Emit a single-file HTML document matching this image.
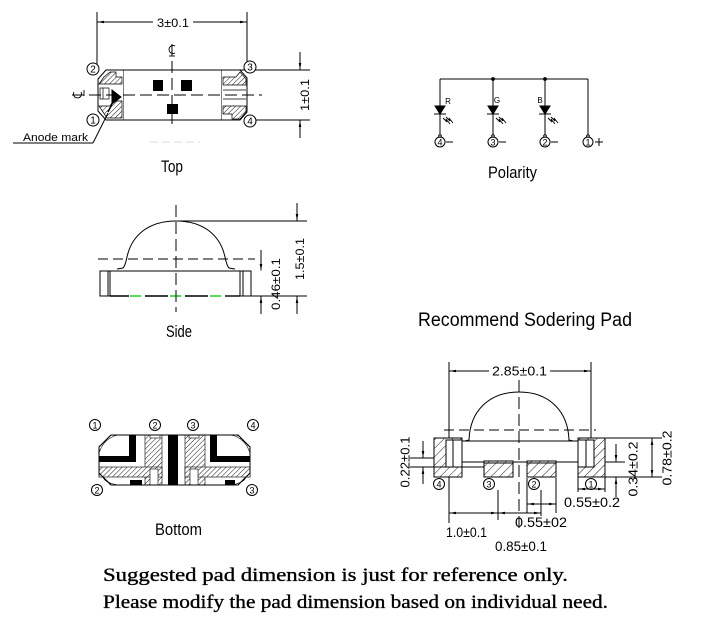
<!DOCTYPE html>
<html><head><meta charset="utf-8"><style>
html,body{margin:0;padding:0;background:#fff;}
svg{display:block;}
text{font-family:"Liberation Sans",sans-serif;fill:#000;stroke:none;}
.s{font-family:"Liberation Serif",serif;}
</style></head><body>
<svg width="711" height="637" viewBox="0 0 711 637" xmlns="http://www.w3.org/2000/svg">
<defs>
<marker id="a" viewBox="0 0 10 4" refX="10" refY="2" markerWidth="7" markerHeight="2.6" markerUnits="userSpaceOnUse" orient="auto"><path d="M0,0L10,2L0,4z" fill="#000"/></marker>
<pattern id="h" patternUnits="userSpaceOnUse" width="3.5" height="3.5" patternTransform="rotate(45)"><rect width="3.5" height="3.5" fill="#fff"/><line x1="0" y1="0" x2="0" y2="3.5" stroke="#000" stroke-width="0.9"/></pattern>
<pattern id="h2" patternUnits="userSpaceOnUse" width="6" height="6" patternTransform="rotate(45)"><rect width="6" height="6" fill="#fff"/><line x1="0" y1="0" x2="0" y2="6" stroke="#000" stroke-width="0.9"/></pattern>
</defs>
<g stroke="#000" stroke-width="1" fill="none">

<!-- ================= TOP VIEW ================= -->
<line x1="97" y1="12" x2="97" y2="72"/>
<line x1="247" y1="12" x2="247" y2="62"/>
<line x1="153" y1="22" x2="97.5" y2="22" marker-end="url(#a)"/>
<line x1="193" y1="22" x2="246.5" y2="22" marker-end="url(#a)"/>
<rect x="123" y="70" width="99" height="50"/>
<path d="M123,70 L106,70 L98,79 L98,111 L106,120 L123,120" fill="#fff"/>
<path d="M222,70 L240,70 L247,78 L247,112 L240,120 L222,120" fill="#fff"/>
<path d="M99,84 L104,77 L110,72 L116,72 L116,77 L122,77 L122,84 Z" fill="url(#h)" stroke-width="0.7"/>
<path d="M99,106 L110,106 L113,101 L122,101 L122,118 L107,118 Z" fill="url(#h)" stroke-width="0.7"/>
<rect x="100" y="88" width="9" height="11" fill="#fff" stroke-width="0.7"/>
<line x1="103" y1="88" x2="103" y2="99" stroke-width="0.7"/>
<polygon points="112,90 121,97 112,104" fill="#000"/>
<line x1="112" y1="104" x2="108" y2="112" stroke-width="1.5"/>
<path d="M223,77 L236,77 L240,72 L246,79 L246,85 L223,85 Z" fill="url(#h)" stroke-width="0.7"/>
<path d="M223,106 L246,106 L246,112 L240,119 L232,119 L232,114 L223,114 Z" fill="url(#h)" stroke-width="0.7"/>
<line x1="223" y1="90" x2="246" y2="90" stroke-width="0.7"/>
<line x1="223" y1="99" x2="246" y2="99" stroke-width="0.7"/>
<line x1="72" y1="95" x2="262" y2="95" stroke-dasharray="12 5"/>
<line x1="172" y1="44" x2="172" y2="128" stroke-dasharray="12 5"/>
<rect x="153" y="80" width="10" height="11" fill="#000" stroke="none"/>
<rect x="181" y="80" width="11" height="11" fill="#000" stroke="none"/>
<rect x="167" y="104" width="11" height="10" fill="#000" stroke="none"/>
<path d="M175,46 A4,4 0 1,0 175,53" stroke-width="0.9"/>
<line x1="169" y1="56" x2="175" y2="56" stroke-width="0.9"/>
<path d="M74,92 A4,4 0 1,0 81,92" stroke-width="0.9"/>
<line x1="84" y1="90" x2="84" y2="96" stroke-width="0.9"/>
<line x1="240" y1="70" x2="310" y2="70"/>
<line x1="256" y1="120" x2="310" y2="120"/>
<line x1="300" y1="52" x2="300" y2="69.5" marker-end="url(#a)"/>
<line x1="300" y1="138" x2="300" y2="120.5" marker-end="url(#a)"/>
<circle cx="93" cy="69" r="6" fill="#fff"/>
<circle cx="250" cy="67" r="6" fill="#fff"/>
<circle cx="93" cy="120" r="6" fill="#fff"/>
<circle cx="250" cy="121" r="6" fill="#fff"/>
<line x1="13" y1="143" x2="93" y2="143"/>
<line x1="93" y1="143" x2="108" y2="113"/>
<line x1="150" y1="142" x2="200" y2="142" stroke="#ddd" stroke-dasharray="8 4"/>

<!-- ================= POLARITY ================= -->
<line x1="440" y1="79" x2="588" y2="79"/>
<line x1="440" y1="79" x2="440" y2="137"/>
<line x1="493" y1="79" x2="493" y2="137"/>
<line x1="545" y1="79" x2="545" y2="137"/>
<line x1="588" y1="79" x2="588" y2="137"/>
<circle cx="493" cy="79" r="1.4" fill="#000"/>
<circle cx="545" cy="79" r="1.4" fill="#000"/>
<g fill="#000">
<polygon points="435,106 445,106 440,114"/>
<polygon points="488,106 498,106 493,114"/>
<polygon points="540,106 550,106 545,114"/>
</g>
<line x1="434" y1="114" x2="446" y2="114"/>
<line x1="487" y1="114" x2="499" y2="114"/>
<line x1="539" y1="114" x2="551" y2="114"/>
<g stroke-width="0.9">
<path d="M443,118 L447,122 L446,119 L450,124"/>
<path d="M446,117 L450,121 L449,118 L453,123"/>
<path d="M496,118 L500,122 L499,119 L503,124"/>
<path d="M499,117 L503,121 L502,118 L506,123"/>
<path d="M548,118 L552,122 L551,119 L555,124"/>
<path d="M551,117 L555,121 L554,118 L558,123"/>
</g>
<circle cx="440" cy="142" r="5"/>
<circle cx="493" cy="142" r="5"/>
<circle cx="545" cy="142" r="5"/>
<circle cx="588" cy="142" r="5"/>
<circle cx="440" cy="136" r="1.3" fill="#fff"/>
<circle cx="493" cy="136" r="1.3" fill="#fff"/>
<circle cx="545" cy="136" r="1.3" fill="#fff"/>
<circle cx="588" cy="136" r="1.3" fill="#fff"/>
<line x1="446" y1="142" x2="453" y2="142"/>
<line x1="499" y1="142" x2="506" y2="142"/>
<line x1="551" y1="142" x2="558" y2="142"/>
<line x1="595" y1="142" x2="603" y2="142"/>
<line x1="599" y1="138" x2="599" y2="146"/>

<!-- ================= SIDE VIEW ================= -->
<path d="M117,269 L123,268 C125,266 126,262 127,257 C132,234 150,221 176,221 C202,221 220,234 225,257 C226,262 227,266 229,268 L235,269"/>
<rect x="100" y="271" width="151" height="25"/>
<line x1="108" y1="271" x2="108" y2="296"/>
<line x1="110" y1="271" x2="110" y2="296"/>
<line x1="240" y1="271" x2="240" y2="296"/>
<line x1="243" y1="271" x2="243" y2="296"/>
<line x1="111" y1="296" x2="239" y2="296" stroke="#fff" stroke-width="1.6"/>
<g stroke-width="1.4">
<line x1="110" y1="296" x2="129" y2="296"/>
<line x1="145" y1="296" x2="168" y2="296"/>
<line x1="185" y1="296" x2="208" y2="296"/>
<line x1="225" y1="296" x2="240" y2="296"/>
</g>
<g stroke="#2ad62a" stroke-width="1.6">
<line x1="130" y1="296" x2="141" y2="296"/>
<line x1="170" y1="296" x2="181" y2="296"/>
<line x1="210" y1="296" x2="221" y2="296"/>
</g>
<line x1="98" y1="259" x2="255" y2="259" stroke-dasharray="10 5"/>
<line x1="176" y1="205" x2="176" y2="312" stroke-dasharray="12 5"/>
<line x1="180" y1="221" x2="307" y2="221"/>
<line x1="251" y1="296" x2="307" y2="296"/>
<line x1="297" y1="203" x2="297" y2="220.5" marker-end="url(#a)"/>
<line x1="297" y1="314" x2="297" y2="296.5" marker-end="url(#a)"/>
<line x1="261" y1="250" x2="261" y2="270.5" marker-end="url(#a)"/>
<line x1="261" y1="314" x2="261" y2="296.5" marker-end="url(#a)"/>

<!-- ================= BOTTOM VIEW ================= -->
<path d="M111,435 L238,435 L250,447 L250,473 L238,485 L111,485 L99,473 L99,447 Z" fill="#fff"/>
<g stroke-width="0.6">
<path d="M99,447 L111,435 L118,435 Q104,438 99,453 Z" fill="url(#h)"/>
<path d="M250,447 L238,435 L231,435 Q245,438 250,453 Z" fill="url(#h)"/>
<path d="M99,477 L99,473 L111,485 L118,485 Q105,483 103,477 Z" fill="url(#h)"/>
<path d="M250,477 L250,473 L238,485 L231,485 Q244,483 246,477 Z" fill="url(#h)"/>
<rect x="145" y="435" width="17" height="50" fill="url(#h)"/>
<rect x="99" y="467" width="63" height="10" fill="url(#h)"/>
<rect x="185" y="435" width="20" height="50" fill="url(#h)"/>
<rect x="185" y="467" width="65" height="10" fill="url(#h)"/>
<rect x="150" y="435" width="10" height="3" fill="#fff"/>
<rect x="150" y="469" width="8" height="16" fill="#fff"/>
<rect x="189" y="435" width="10" height="3" fill="#fff"/>
<rect x="190" y="469" width="8" height="16" fill="#fff"/>
</g>
<g fill="#000" stroke="none">
<rect x="99" y="456" width="37" height="6"/>
<rect x="129" y="435" width="7" height="27"/>
<rect x="130" y="480" width="12" height="5"/>
<rect x="168" y="435" width="10" height="50"/>
<rect x="210" y="435" width="7" height="27"/>
<rect x="210" y="456" width="40" height="6"/>
<rect x="225" y="480" width="10" height="5"/>
</g>
<path d="M111,435 L238,435 L250,447 L250,473 L238,485 L111,485 L99,473 L99,447 Z"/>
<circle cx="95" cy="425" r="5.5"/>
<circle cx="155" cy="425" r="5.5"/>
<circle cx="193" cy="425" r="5.5"/>
<circle cx="253" cy="425" r="5.5"/>
<circle cx="97" cy="490" r="5.5"/>
<circle cx="252" cy="490" r="5.5"/>

<!-- ================= PAD VIEW ================= -->
<line x1="449" y1="362" x2="449" y2="440"/>
<line x1="591" y1="362" x2="591" y2="440"/>
<line x1="489" y1="371" x2="449.5" y2="371" marker-end="url(#a)"/>
<line x1="550" y1="371" x2="590.5" y2="371" marker-end="url(#a)"/>
<path d="M465,441 L469,440 C470,411 489,392 519,392 C549,392 568,411 569,440 L573,441"/>
<line x1="444" y1="430" x2="596" y2="430" stroke-dasharray="10 5"/>
<line x1="519" y1="380" x2="519" y2="530" stroke-dasharray="12 5"/>
<line x1="453" y1="441" x2="587" y2="441"/>
<line x1="453" y1="462" x2="625" y2="462"/>
<rect x="434" y="438" width="28" height="39" fill="url(#h2)"/>
<rect x="446" y="440" width="16" height="27" fill="#fff"/>
<line x1="453" y1="440" x2="453" y2="467"/>
<rect x="578" y="438" width="27" height="39" fill="url(#h2)"/>
<rect x="578" y="440" width="16" height="27" fill="#fff"/>
<line x1="586" y1="440" x2="586" y2="467"/>
<rect x="484" y="461" width="29" height="16" fill="url(#h2)"/>
<line x1="484" y1="463" x2="513" y2="463"/>
<rect x="527" y="461" width="29" height="16" fill="url(#h2)"/>
<line x1="527" y1="463" x2="556" y2="463"/>
<circle cx="439" cy="484" r="5.5" fill="#fff"/>
<circle cx="489" cy="484" r="5.5" fill="#fff"/>
<circle cx="534" cy="484" r="5.5" fill="#fff"/>
<circle cx="591" cy="484" r="5.5" fill="#fff"/>
<line x1="410" y1="458" x2="434" y2="458"/>
<line x1="410" y1="467" x2="484" y2="467"/>
<line x1="423" y1="441" x2="423" y2="457.5" marker-end="url(#a)"/>
<line x1="423" y1="484" x2="423" y2="467.5" marker-end="url(#a)"/>
<line x1="605" y1="438" x2="662" y2="438"/>
<line x1="605" y1="477" x2="662" y2="477"/>
<line x1="616" y1="444" x2="616" y2="461.5" marker-end="url(#a)"/>
<line x1="616" y1="497" x2="616" y2="477.5" marker-end="url(#a)"/>
<line x1="652" y1="458" x2="652" y2="438.5" marker-end="url(#a)"/>
<line x1="652" y1="458" x2="652" y2="476.5" marker-end="url(#a)"/>
<line x1="449" y1="477" x2="449" y2="523"/>
<line x1="498" y1="490" x2="498" y2="520"/>
<line x1="527" y1="478" x2="527" y2="513"/>
<line x1="541" y1="490" x2="541" y2="516"/>
<line x1="556" y1="478" x2="556" y2="513"/>
<line x1="473" y1="513" x2="449.5" y2="513" marker-end="url(#a)"/>
<line x1="473" y1="513" x2="497.5" y2="513" marker-end="url(#a)"/>
<line x1="520" y1="513" x2="498.5" y2="513" marker-end="url(#a)"/>
<line x1="520" y1="513" x2="540.5" y2="513" marker-end="url(#a)"/>
<line x1="541" y1="504" x2="527.5" y2="504" marker-end="url(#a)"/>
<line x1="541" y1="504" x2="555.5" y2="504" marker-end="url(#a)"/>
<line x1="578" y1="477" x2="578" y2="492"/>
<line x1="605" y1="477" x2="605" y2="492"/>
<line x1="591" y1="489" x2="578.5" y2="489" marker-end="url(#a)"/>
<line x1="591" y1="489" x2="604.5" y2="489" marker-end="url(#a)"/>
</g>

<!-- ================= TEXT ================= -->
<g font-size="12">
<text x="173" y="27" text-anchor="middle" textLength="32" lengthAdjust="spacingAndGlyphs">3±0.1</text>
<text x="0" y="0" text-anchor="middle" dominant-baseline="central" transform="translate(305,95) rotate(-90)" textLength="32" lengthAdjust="spacingAndGlyphs">1±0.1</text>
<text x="23" y="141" font-size="11" textLength="65" lengthAdjust="spacingAndGlyphs">Anode mark</text>
<text x="0" y="0" text-anchor="middle" dominant-baseline="central" transform="translate(300,259) rotate(-90)" textLength="42" lengthAdjust="spacingAndGlyphs">1.5±0.1</text>
<text x="0" y="0" text-anchor="middle" dominant-baseline="central" transform="translate(276,284) rotate(-90)" textLength="52" lengthAdjust="spacingAndGlyphs">0.46±0.1</text>
</g>
<g font-size="9" text-anchor="middle">
<text x="93" y="72.5" font-size="10">2</text>
<text x="250" y="70.5" font-size="10">3</text>
<text x="93" y="123.5" font-size="10">1</text>
<text x="250" y="124.5" font-size="10">4</text>
<text x="440" y="145.5">4</text>
<text x="493" y="145.5">3</text>
<text x="545" y="145.5">2</text>
<text x="588" y="145.5">1</text>
<text x="95" y="428.5">1</text>
<text x="155" y="428.5">2</text>
<text x="193" y="428.5">3</text>
<text x="253" y="428.5">4</text>
<text x="97" y="493.5">2</text>
<text x="252" y="493.5">3</text>
<text x="439" y="487.5">4</text>
<text x="489" y="487.5">3</text>
<text x="534" y="487.5">2</text>
<text x="591" y="487.5">1</text>
<text x="448" y="104" font-size="8">R</text>
<text x="497" y="103" font-size="8">G</text>
<text x="540" y="103" font-size="8">B</text>
</g>
<g font-size="17">
<text x="161" y="172" textLength="22" lengthAdjust="spacingAndGlyphs">Top</text>
<text x="166" y="337" textLength="26" lengthAdjust="spacingAndGlyphs">Side</text>
<text x="155" y="535" textLength="47" lengthAdjust="spacingAndGlyphs">Bottom</text>
<text x="488" y="178" textLength="49" lengthAdjust="spacingAndGlyphs">Polarity</text>
<text x="418" y="326" font-size="19" textLength="214" lengthAdjust="spacingAndGlyphs">Recommend Sodering Pad</text>
</g>
<g font-size="13">
<text x="519.5" y="375.5" text-anchor="middle" textLength="55" lengthAdjust="spacingAndGlyphs">2.85±0.1</text>
<text x="0" y="0" text-anchor="middle" dominant-baseline="central" transform="translate(405,462) rotate(-90)" textLength="51" lengthAdjust="spacingAndGlyphs">0.22±0.1</text>
<text x="0" y="0" text-anchor="middle" dominant-baseline="central" transform="translate(633,469) rotate(-90)" textLength="55" lengthAdjust="spacingAndGlyphs">0.34±0.2</text>
<text x="0" y="0" text-anchor="middle" dominant-baseline="central" transform="translate(667,458) rotate(-90)" textLength="55" lengthAdjust="spacingAndGlyphs">0.78±0.2</text>
<text x="446" y="537" font-size="14" textLength="41" lengthAdjust="spacingAndGlyphs">1.0±0.1</text>
<text x="495" y="551" font-size="14" textLength="52" lengthAdjust="spacingAndGlyphs">0.85±0.1</text>
<text x="515" y="527" font-size="14" textLength="52" lengthAdjust="spacingAndGlyphs">0.55±02</text>
<text x="564" y="507" font-size="14" textLength="56" lengthAdjust="spacingAndGlyphs">0.55±0.2</text>
</g>
<g font-size="19">
<text class="s" x="103" y="581" stroke="#000" stroke-width="0.35" textLength="465" lengthAdjust="spacingAndGlyphs" style="stroke:#000;stroke-width:0.35">Suggested pad dimension is just for reference only.</text>
<text class="s" x="103" y="608" textLength="505" lengthAdjust="spacingAndGlyphs" style="stroke:#000;stroke-width:0.35">Please modify the pad dimension based on individual need.</text>
</g>
</svg>
</body></html>
